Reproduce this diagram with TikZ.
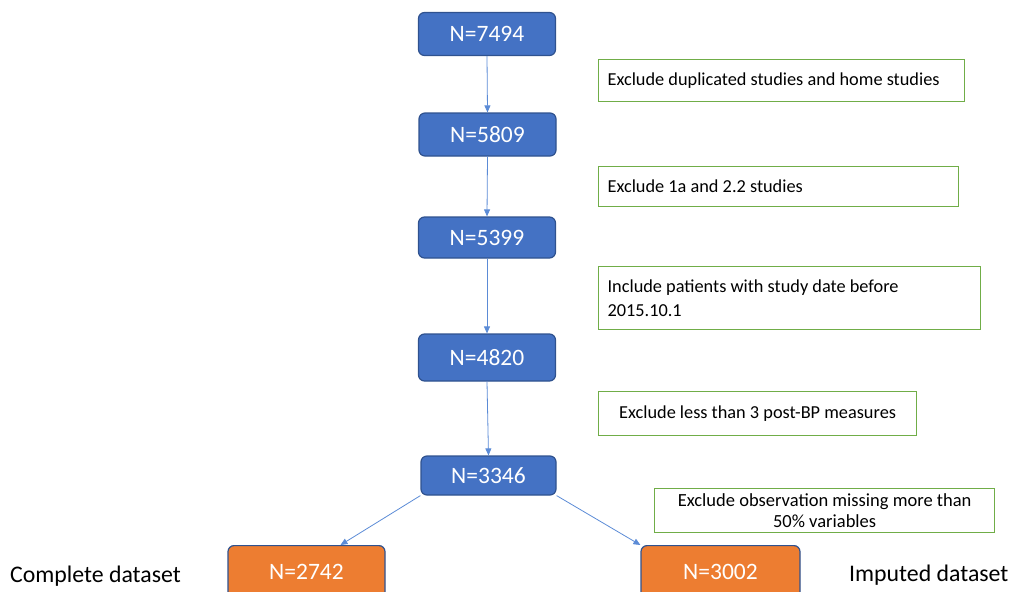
\documentclass[tikz,border=0pt]{standalone}
\usepackage{fontspec}
\setmainfont{Carlito}
\usetikzlibrary{arrows.meta}
\definecolor{boxblue}{HTML}{4472C4}
\definecolor{boxedge}{HTML}{2F528F}
\definecolor{boxorange}{HTML}{ED7D31}
\definecolor{boxgreen}{HTML}{70AD47}
\definecolor{linkblue}{HTML}{5B8BD6}
\tikzset{
  stage/.style={draw=boxedge, line width=1.2pt, rounded corners=6pt, fill=boxblue, text=white,
    minimum width=137pt, minimum height=43pt, font=\fontsize{23.5}{28}\selectfont, inner sep=0pt},
  final/.style={stage, fill=boxorange, minimum width=157pt, minimum height=52pt},
  note/.style={draw=boxgreen, line width=1.2pt, fill=white, text=black, font=\fontsize{18.3}{23.5}\selectfont,
    inner xsep=9pt, inner ysep=0pt, anchor=north west},
  side/.style={font=\fontsize{23.8}{28}\selectfont, text=black, inner sep=0pt},
  link/.style={draw=linkblue, line width=0.8pt, -{Triangle[length=7pt,width=6pt]}}
}
\begin{document}
\begin{tikzpicture}[x=1pt,y=-1pt]
\useasboundingbox (0,0) rectangle (1013,592);
\node[stage] (n1) at (487,34) {N=7494};
\node[stage] (n2) at (487.5,134.5) {N=5809};
\node[stage, minimum height=41pt] (n3) at (487,237.5) {N=5399};
\node[stage, minimum height=47pt] (n4) at (487,357.5) {N=4820};
\node[stage, minimum width=135pt, minimum height=39pt] (n5) at (488.5,475.5) {N=3346};
\node[final, anchor=north] (n6) at (306.5,545) {N=2742};
\node[final, anchor=north, minimum width=159pt] (n7) at (720.5,545) {N=3002};

\node[note, text width=348pt, minimum height=42pt, align=flush left] (c1) at (598,59) {Exclude duplicated studies and home studies};
\node[note, text width=342pt, minimum height=40pt, align=flush left] (c2) at (598,166) {Exclude 1a and 2.2 studies};
\node[note, text width=364pt, minimum height=63pt, align=flush left] (c3) at (598,266) {Include patients with study date before\\2015.10.1};
\node[note, text width=300pt, minimum height=44pt, align=flush center] (c4) at (598,391) {Exclude less than 3 post-BP measures};
\node[note, text width=322pt, minimum height=44pt, align=flush center, font=\fontsize{18.5}{21}\selectfont] (c5) at (654,488) {Exclude observation missing more than\\50\% variables};

\node[side, anchor=west] (l1) at (10,576) {Complete dataset};
\node[side, anchor=west] (l2) at (849,575) {Imputed dataset};

\draw[link] (n1.south) -- (n2.north);
\draw[link] (n2.south) -- (n3.north);
\draw[link] (n3.south) -- (n4.north);
\draw[link] (n4.south) -- (n5.north);
\draw[link] (n5.south west) -- ([xshift=34pt]n6.north);
\draw[link] (n5.south east) -- (n7.north west);
\end{tikzpicture}
\end{document}
